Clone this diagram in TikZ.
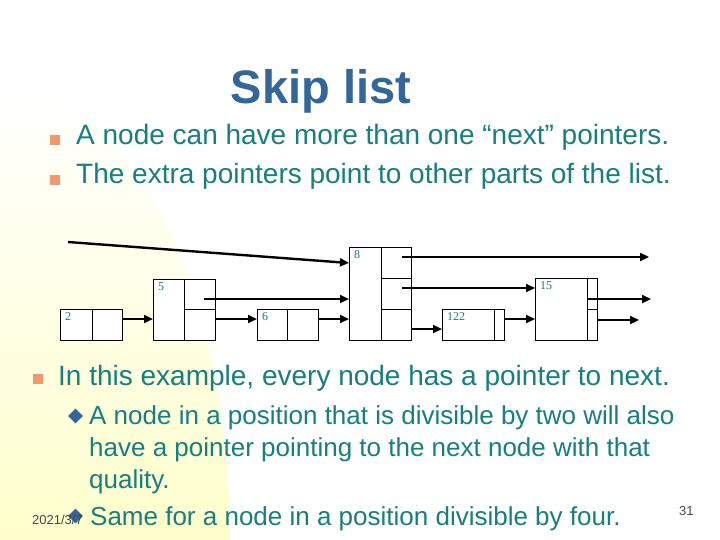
\documentclass[tikz,border=0pt]{standalone}
\usepackage{fontspec}
\setmainfont{Liberation Sans}
\newfontfamily\keyfont{Liberation Serif}
\usetikzlibrary{positioning,arrows.meta,shapes.geometric}
\definecolor{titleblue}{RGB}{51,102,153}
\definecolor{bodyteal}{RGB}{20,128,128}
\definecolor{bulletorange}{RGB}{247,150,110}
\definecolor{paleyellow}{RGB}{255,255,204}
\definecolor{footgray}{RGB}{70,70,70}
\tikzset{
  cell/.style={draw=black,line width=0.8pt,fill=white,inner sep=0pt,outer sep=0pt},
  keylbl/.style={font=\keyfont\fontsize{12}{12}\selectfont,text=bodyteal,
                 inner xsep=5pt,inner ysep=3.5pt,anchor=north west},
  ptr/.style={-{Triangle[length=9pt,width=8pt]},line width=2.4pt},
  body/.style={font=\fontsize{28}{34}\selectfont,text=bodyteal,inner sep=0pt,anchor=base west},
  subbody/.style={font=\fontsize{26}{32}\selectfont,text=bodyteal,inner sep=0pt,
                  anchor=base west,align=left},
  sqbullet/.style={fill=bulletorange,minimum size=10pt,inner sep=0pt},
  dmbullet/.style={diamond,fill=titleblue,minimum size=15pt,inner sep=0pt},
  foot/.style={font=\fontsize{13}{13}\selectfont,text=footgray,inner sep=0pt,anchor=base west}
}
\begin{document}
\begin{tikzpicture}[x=1pt,y=-1pt]
\useasboundingbox (0,0) rectangle (720,540);
\fill[white] (0,0) rectangle (720,540);
\shade[top color=white,bottom color=paleyellow]
  (0,540) -- (0,86) arc[start angle=90,end angle=0,x radius=230pt,y radius=454pt] -- cycle;

% title and first bullets
\node[font=\bfseries\fontsize{47}{47}\selectfont,text=titleblue,inner sep=0pt,anchor=base]
  (title) at (321,104) {Skip list};
\node[sqbullet] (b1) at (55,140) {};
\node[body] (t1) at (76,145) {A node can have more than one “next” pointers.};
\node[sqbullet] (b2) at (55,180) {};
\node[body] (t2) at (76,184) {The extra pointers point to other parts of the list.};

% list nodes
\node[cell,minimum width=32pt,minimum height=31pt,anchor=north west,
      label={[keylbl]north west:2}] (k2) at (60,309) {};
\node[cell,minimum width=30pt,minimum height=31pt,right=0pt of k2] (p2) {};

\node[cell,minimum width=31pt,minimum height=61pt,anchor=north west,
      label={[keylbl]north west:5}] (k5) at (153,279) {};
\node[cell,minimum width=31pt,minimum height=30pt,anchor=north west] (p5up) at (k5.north east) {};
\node[cell,minimum width=31pt,minimum height=31pt,below=0pt of p5up] (p5lo) {};

\node[cell,minimum width=30pt,minimum height=31pt,anchor=north west,
      label={[keylbl]north west:6}] (k6) at (257,309) {};
\node[cell,minimum width=31pt,minimum height=31pt,right=0pt of k6] (p6) {};

\node[cell,minimum width=32pt,minimum height=93pt,anchor=north west,
      label={[keylbl]north west:8}] (k8) at (349,247) {};
\node[cell,minimum width=30pt,minimum height=31pt,anchor=north west] (p8up) at (k8.north east) {};
\node[cell,minimum width=30pt,minimum height=31pt,below=0pt of p8up] (p8mid) {};
\node[cell,minimum width=30pt,minimum height=31pt,below=0pt of p8mid] (p8lo) {};

\node[cell,minimum width=52pt,minimum height=31pt,anchor=north west,
      label={[keylbl]north west:122}] (k122) at (442,309) {};
\node[cell,minimum width=10pt,minimum height=31pt,right=0pt of k122] (p122) {};

\node[cell,minimum width=52pt,minimum height=62pt,anchor=north west,
      label={[keylbl]north west:15}] (k15) at (535,278) {};
\node[cell,minimum width=10pt,minimum height=31pt,anchor=north west] (p15up) at (k15.north east) {};
\node[cell,minimum width=10pt,minimum height=31pt,below=0pt of p15up] (p15lo) {};

\coordinate (head) at (68,242);
\coordinate (end8) at (649,257);
\coordinate (end15up) at (651,299);
\coordinate (end15lo) at (639,320);

% pointers
\draw[ptr] (head) -- (k8.west |- 0,263);
\draw[ptr] ([shift={(4,5)}]p5up.center) coordinate (s5up) -- (s5up -| k8.west);
\draw[ptr] ([shift={(6,-5.5)}]p8up.center) -- (end8);
\draw[ptr] ([shift={(6,-5.5)}]p8mid.center) coordinate (s8mid) -- (s8mid -| k15.west);
\draw[ptr] ([shift={(0,4.5)}]p8lo.east) coordinate (s8lo) -- (s8lo -| k122.west);
\draw[ptr] ([shift={(0,-5.5)}]p2.east) coordinate (s2) -- (s2 -| k5.west);
\draw[ptr] ([shift={(0,-5.5)}]p5lo.east) coordinate (s5lo) -- (s5lo -| k6.west);
\draw[ptr] ([shift={(0,-5.5)}]p6.east) coordinate (s6) -- (s6 -| k8.west);
\draw[ptr] ([shift={(0,-5.5)}]p122.east) coordinate (s122) -- (s122 -| k15.west);
\draw[ptr] ([shift={(0,5.5)}]p15up.west) -- (end15up);
\draw[ptr] ([shift={(0,-4.5)}]p15lo.east) -- (end15lo);

% lower bullets
\node[sqbullet] (b3) at (37.5,379) {};
\node[body] (t3) at (58,385) {In this example, every node has a pointer to next.};
\node[dmbullet] (d1) at (75.5,416) {};
\node[subbody] (s1) at (89,488) {A node in a position that is divisible by two will also\\
  have a pointer pointing to the next node with that\\ quality.};
\node[dmbullet] (d2) at (75.5,516) {};
\node[subbody] (s2) at (90,525) {Same for a node in a position divisible by four.};

% footer
\node[foot] (date) at (32,524) {2021/3/7};
\node[foot] (page) at (679,515) {31};
\end{tikzpicture}
\end{document}
